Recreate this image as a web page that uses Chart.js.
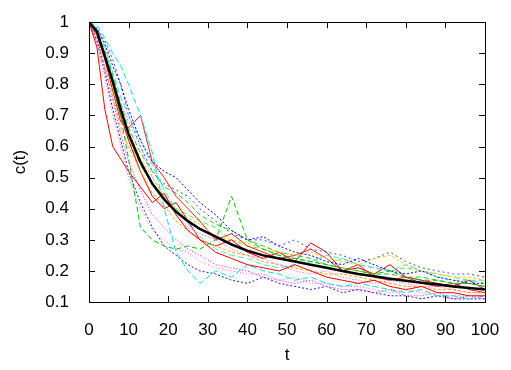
<!DOCTYPE html>
<html>
<head>
<meta charset="utf-8">
<script src="https://cdn.jsdelivr.net/npm/chart.js@4.4.0/dist/chart.umd.min.js"></script>
<style>
  html, body { margin: 0; padding: 0; background: #fff; }
  #wrap { width: 511px; height: 370px; }
</style>
</head>
<body>
<div id="wrap"><canvas id="ct" width="511" height="370"></canvas></div>
<script>
// sample times
const tValues = [0, 2, 4, 6, 8, 10, 13, 16, 19, 22, 25, 28, 32, 36, 40, 44, 48, 52, 56, 60, 64, 68, 72, 76, 80, 84, 88, 92, 96, 100];

// average curve
const meanC = [1, 0.97, 0.89, 0.81, 0.72, 0.64, 0.55, 0.48, 0.43, 0.39, 0.36, 0.335, 0.31, 0.285, 0.265, 0.25, 0.24, 0.23, 0.22, 0.21, 0.2, 0.19, 0.183, 0.175, 0.168, 0.162, 0.156, 0.15, 0.145, 0.14];

// individual runs
const run1 = [1, 0.92, 0.72, 0.6, 0.56, 0.52, 0.47, 0.42, 0.45, 0.38, 0.33, 0.3, 0.26, 0.24, 0.22, 0.21, 0.2, 0.22, 0.2, 0.18, 0.17, 0.16, 0.17, 0.15, 0.14, 0.15, 0.13, 0.13, 0.12, 0.12];
const run2 = [1, 0.96, 0.9, 0.8, 0.7, 0.56, 0.34, 0.3, 0.28, 0.27, 0.28, 0.27, 0.3, 0.44, 0.3, 0.27, 0.25, 0.24, 0.23, 0.22, 0.21, 0.2, 0.19, 0.2, 0.18, 0.17, 0.17, 0.16, 0.16, 0.15];
const run3 = [1, 0.98, 0.93, 0.86, 0.8, 0.72, 0.62, 0.55, 0.52, 0.5, 0.46, 0.42, 0.38, 0.33, 0.3, 0.31, 0.28, 0.26, 0.25, 0.23, 0.22, 0.24, 0.22, 0.2, 0.19, 0.2, 0.18, 0.17, 0.16, 0.16];
const run4 = [1, 0.95, 0.85, 0.75, 0.64, 0.55, 0.46, 0.38, 0.34, 0.3, 0.27, 0.25, 0.22, 0.21, 0.2, 0.18, 0.17, 0.16, 0.17, 0.15, 0.14, 0.14, 0.13, 0.14, 0.12, 0.12, 0.13, 0.11, 0.12, 0.11];
const run5 = [1, 0.99, 0.95, 0.9, 0.86, 0.8, 0.7, 0.58, 0.4, 0.26, 0.2, 0.16, 0.2, 0.18, 0.22, 0.2, 0.19, 0.17, 0.18, 0.16, 0.15, 0.16, 0.15, 0.14, 0.13, 0.14, 0.12, 0.12, 0.11, 0.12];
const run6 = [1, 0.97, 0.9, 0.8, 0.72, 0.65, 0.56, 0.5, 0.44, 0.4, 0.37, 0.35, 0.31, 0.3, 0.29, 0.27, 0.26, 0.25, 0.26, 0.24, 0.23, 0.22, 0.24, 0.25, 0.22, 0.2, 0.19, 0.18, 0.18, 0.17];
const run7 = [1, 0.96, 0.88, 0.78, 0.68, 0.66, 0.7, 0.55, 0.5, 0.44, 0.4, 0.36, 0.3, 0.32, 0.28, 0.26, 0.24, 0.25, 0.27, 0.24, 0.2, 0.22, 0.18, 0.17, 0.18, 0.16, 0.15, 0.16, 0.14, 0.13];
const run8 = [1, 0.97, 0.91, 0.83, 0.74, 0.66, 0.58, 0.52, 0.47, 0.45, 0.42, 0.38, 0.35, 0.33, 0.3, 0.28, 0.26, 0.25, 0.24, 0.22, 0.21, 0.2, 0.19, 0.19, 0.18, 0.18, 0.17, 0.16, 0.16, 0.15];
const run9 = [1, 0.94, 0.84, 0.72, 0.62, 0.52, 0.42, 0.34, 0.28, 0.25, 0.22, 0.2, 0.19, 0.17, 0.16, 0.18, 0.16, 0.15, 0.14, 0.15, 0.13, 0.14, 0.13, 0.12, 0.12, 0.11, 0.12, 0.11, 0.11, 0.11];
const run10 = [1, 0.97, 0.9, 0.82, 0.74, 0.68, 0.6, 0.5, 0.44, 0.38, 0.34, 0.32, 0.3, 0.27, 0.25, 0.24, 0.22, 0.2, 0.19, 0.2, 0.18, 0.17, 0.16, 0.17, 0.16, 0.15, 0.15, 0.14, 0.13, 0.13];
const run11 = [1, 0.98, 0.92, 0.84, 0.76, 0.7, 0.62, 0.54, 0.46, 0.4, 0.35, 0.31, 0.27, 0.25, 0.24, 0.22, 0.21, 0.22, 0.23, 0.25, 0.24, 0.22, 0.21, 0.2, 0.22, 0.2, 0.18, 0.17, 0.17, 0.16];
const run12 = [1, 0.98, 0.94, 0.88, 0.8, 0.7, 0.6, 0.52, 0.48, 0.46, 0.44, 0.4, 0.36, 0.32, 0.3, 0.3, 0.28, 0.3, 0.27, 0.26, 0.25, 0.23, 0.24, 0.26, 0.23, 0.21, 0.2, 0.19, 0.19, 0.18];
const run13 = [1, 0.95, 0.86, 0.76, 0.66, 0.6, 0.52, 0.45, 0.41, 0.36, 0.33, 0.3, 0.28, 0.26, 0.25, 0.23, 0.22, 0.21, 0.2, 0.19, 0.19, 0.18, 0.17, 0.16, 0.15, 0.15, 0.14, 0.14, 0.13, 0.13];
const run14 = [1, 0.97, 0.89, 0.8, 0.7, 0.62, 0.52, 0.44, 0.4, 0.42, 0.36, 0.3, 0.28, 0.3, 0.26, 0.24, 0.26, 0.23, 0.29, 0.26, 0.2, 0.21, 0.19, 0.22, 0.18, 0.17, 0.16, 0.15, 0.17, 0.14];
const run15 = [1, 0.96, 0.88, 0.78, 0.7, 0.62, 0.54, 0.48, 0.44, 0.4, 0.38, 0.36, 0.34, 0.3, 0.28, 0.27, 0.25, 0.24, 0.23, 0.22, 0.24, 0.22, 0.21, 0.2, 0.21, 0.2, 0.19, 0.18, 0.17, 0.17];
const run16 = [1, 0.93, 0.82, 0.7, 0.6, 0.5, 0.4, 0.33, 0.3, 0.27, 0.26, 0.23, 0.21, 0.2, 0.19, 0.19, 0.17, 0.18, 0.16, 0.16, 0.15, 0.15, 0.14, 0.13, 0.14, 0.13, 0.12, 0.12, 0.12, 0.12];

const runs = [run1, run2, run3, run4, run5, run6, run7, run8, run9, run10, run11, run12, run13, run14, run15, run16];

// gnuplot-ish line types
const runColors = ['#ff0000', '#00c000', '#0000ff', '#ff00ff', '#00e0e0', '#e8d000', '#ff2020', '#20d020',
                   '#2020c0', '#ff40ff', '#40e0e0', '#4040ff', '#ffa000', '#e00000', '#60e060', '#ff60c0'];
const runDash = [[], [5, 3], [2, 2], [1, 2], [6, 3], [3, 2], [], [5, 3],
                 [2, 2], [1, 2], [6, 3], [2, 3], [3, 2], [], [5, 3], [1, 2]];

const xTicks = [0, 10, 20, 30, 40, 50, 60, 70, 80, 90, 100];
const yTicks = [0.1, 0.2, 0.3, 0.4, 0.5, 0.6, 0.7, 0.8, 0.9, 1];

const toPoints = arr => arr.map((v, i) => ({ x: tValues[i], y: v }));

const datasets = [{
    label: 'mean',
    data: toPoints(meanC),
    borderColor: '#000',
    borderWidth: 2.5,
    order: -1
}];
runs.forEach((r, i) => {
    datasets.push({
        label: 'run ' + (i + 1),
        data: toPoints(r),
        borderColor: runColors[i],
        borderWidth: 1,
        borderDash: runDash[i],
        order: 1
    });
});

// gnuplot style box with inward ticks on all four sides
const boxPlugin = {
    id: 'box',
    afterDatasetsDraw(chart) {
        const ctx = chart.ctx;
        const a = chart.chartArea;
        const xs = chart.scales.x, ys = chart.scales.y;
        ctx.save();
        ctx.strokeStyle = '#000';
        ctx.lineWidth = 1;
        ctx.strokeRect(Math.round(a.left) + 0.5, Math.round(a.top) + 0.5,
                       Math.round(a.right - a.left), Math.round(a.bottom - a.top));
        ctx.beginPath();
        xTicks.forEach(v => {
            const px = Math.round(xs.getPixelForValue(v)) + 0.5;
            ctx.moveTo(px, a.bottom); ctx.lineTo(px, a.bottom - 6);
            ctx.moveTo(px, a.top); ctx.lineTo(px, a.top + 6);
        });
        yTicks.forEach(v => {
            const py = Math.round(ys.getPixelForValue(v)) + 0.5;
            ctx.moveTo(a.left, py); ctx.lineTo(a.left + 6, py);
            ctx.moveTo(a.right, py); ctx.lineTo(a.right - 6, py);
        });
        ctx.stroke();
        ctx.restore();
    }
};

const font = { family: '"Liberation Sans", Arial, sans-serif', size: 17 };

new Chart(document.getElementById('ct'), {
    type: 'line',
    data: { datasets },
    plugins: [boxPlugin],
    options: {
        responsive: false,
        animation: false,
        devicePixelRatio: 1,
        layout: { padding: { top: 14, right: 26, left: 0, bottom: 0 } },
        elements: { point: { radius: 0 }, line: { tension: 0, fill: false } },
        plugins: { legend: { display: false }, tooltip: { enabled: false } },
        scales: {
            x: {
                type: 'linear',
                min: 0, max: 100,
                afterFit: s => { s.height = 68; },
                grid: { display: false },
                border: { display: false },
                ticks: { stepSize: 10, color: '#000', font, padding: 10, maxRotation: 0 },
                title: { display: true, text: 't', color: '#000', font, padding: { top: 4 } }
            },
            y: {
                type: 'linear',
                min: 0.1, max: 1,
                afterFit: s => { s.width = 89; },
                grid: { display: false },
                border: { display: false },
                ticks: {
                    stepSize: 0.1, color: '#000', font, padding: 12,
                    callback: v => String(Number(v.toFixed(1)))
                },
                title: { display: true, text: 'c(t)', color: '#000', font, padding: { top: 10 } }
            }
        }
    }
});
</script>
</body>
</html>
